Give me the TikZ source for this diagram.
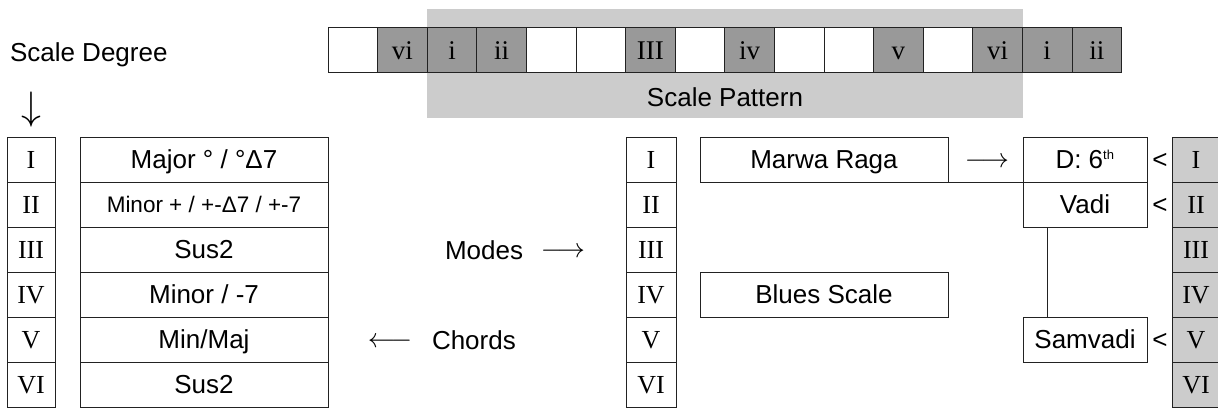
\documentclass[tikz,border=0pt]{standalone}
\usepackage{fontspec}
\setmainfont{Liberation Sans}
\newfontfamily\romfont{Liberation Serif}
\definecolor{darkcell}{HTML}{999999}
\definecolor{lightbg}{HTML}{CCCCCC}
\definecolor{edge}{HTML}{222222}
\begin{document}
\begin{tikzpicture}[x=1pt,y=-1pt,
  every node/.style={inner sep=0pt, outer sep=0pt},
  lbl/.style={font=\fontsize{26}{30}\selectfont, text height=18.5pt, text depth=0pt},
  arr/.style={font=\fontsize{24.88}{30}\selectfont},
  box/.style={lbl, draw=edge, line width=1pt, fill=white, minimum height=45pt},
  romcell/.style={box, font=\fontsize{26}{30}\selectfont\romfont, text height=17pt},
  stripcell/.style={draw=edge, line width=1pt, minimum width=49.6pt, minimum height=45pt,
    font=\fontsize{27}{30}\selectfont\romfont, text height=17.5pt, text depth=0pt},
  degcol/.style={romcell, minimum width=48pt},
  rgtcol/.style={romcell, minimum width=48pt, fill=lightbg},
  midcol/.style={romcell, minimum width=50pt},
  chordbox/.style={box, minimum width=248pt},
  modebox/.style={box, minimum width=248pt},
  notebox/.style={box, minimum width=124pt},
  link/.style={draw=edge, line width=1pt}
]
\useasboundingbox (0,0) rectangle (1218,412);

% scale pattern background
\fill[lightbg] (427,9) rectangle (1023,118);
\node[lbl] (pattern) at (725,97) {Scale Pattern};

% strip of cells
\foreach \i/\t/\f in {0//white,1/vi/darkcell,2/i/darkcell,3/ii/darkcell,4//white,5//white,
  6/III/darkcell,7//white,8/iv/darkcell,9//white,10//white,11/v/darkcell,12//white,
  13/vi/darkcell,14/i/darkcell,15/ii/darkcell}
  \node[stripcell, fill=\f] (s\i) at ({352.8+49.6*\i},50.5) {\t};

\node[lbl, anchor=west] (degree) at (10,52) {Scale Degree};
\node[arr] (down) at (31,110) {\scalebox{1.6}{$\downarrow$}};

% left degree column
\node[degcol] (L1) at (31,159.5) {I};
\node[degcol] (L2) at (31,204.5) {II};
\node[degcol] (L3) at (31,249.5) {III};
\node[degcol] (L4) at (31,294.5) {IV};
\node[degcol] (L5) at (31,339.5) {V};
\node[degcol] (L6) at (31,384.5) {VI};

% chord column
\node[chordbox] (C1) at (204,159.5) {Major ° / °Δ7};
\node[chordbox, font=\fontsize{22.5}{26}\selectfont, text height=16pt] (C2) at (204,204.5) {Minor + / +-Δ7 / +-7};
\node[chordbox] (C3) at (204,249.5) {Sus2};
\node[chordbox] (C4) at (204,294.5) {Minor / -7};
\node[chordbox] (C5) at (204,339.5) {Min/Maj};
\node[chordbox] (C6) at (204,384.5) {Sus2};

% modes / chords labels
\node[lbl, anchor=west] (modes) at (445,250) {Modes};
\node[arr] (modesarr) at (563,252) {\scalebox{1.1}{$\longrightarrow$}};
\node[arr] (chordsarr) at (390,342) {\scalebox{1.1}{$\longleftarrow$}};
\node[lbl, anchor=west] (chords) at (432,340) {Chords};

% middle column
\node[midcol] (M1) at (651,159.5) {I};
\node[midcol] (M2) at (651,204.5) {II};
\node[midcol] (M3) at (651,249.5) {III};
\node[midcol] (M4) at (651,294.5) {IV};
\node[midcol] (M5) at (651,339.5) {V};
\node[midcol] (M6) at (651,384.5) {VI};

% mode boxes
\node[modebox] (marwa) at (824,159.5) {Marwa Raga};
\node[modebox] (blues) at (824,294.5) {Blues Scale};
\node[arr] (marwaarr) at (987,162) {\scalebox{1.1}{$\longrightarrow$}};

% note boxes
\node[notebox] (dsixth) at (1085,159.5) {D: 6\textsuperscript{\fontsize{13}{15}\selectfont th}};
\node[notebox] (vadi) at (1085,204.5) {Vadi};
\node[notebox] (samvadi) at (1085,339.5) {Samvadi};

\draw[link] (marwa.south east) -- (dsixth.south west);
\draw[link] ([xshift=24pt]vadi.south west) -- ([xshift=24pt]samvadi.north west);

% less-than signs
\node[lbl] (lt1) at (1160,159.5) {<};
\node[lbl] (lt2) at (1160,204.5) {<};
\node[lbl] (lt5) at (1160,339.5) {<};

% right column
\node[rgtcol] (R1) at (1196,159.5) {I};
\node[rgtcol] (R2) at (1196,204.5) {II};
\node[rgtcol] (R3) at (1196,249.5) {III};
\node[rgtcol] (R4) at (1196,294.5) {IV};
\node[rgtcol] (R5) at (1196,339.5) {V};
\node[rgtcol] (R6) at (1196,384.5) {VI};
\end{tikzpicture}
\end{document}
